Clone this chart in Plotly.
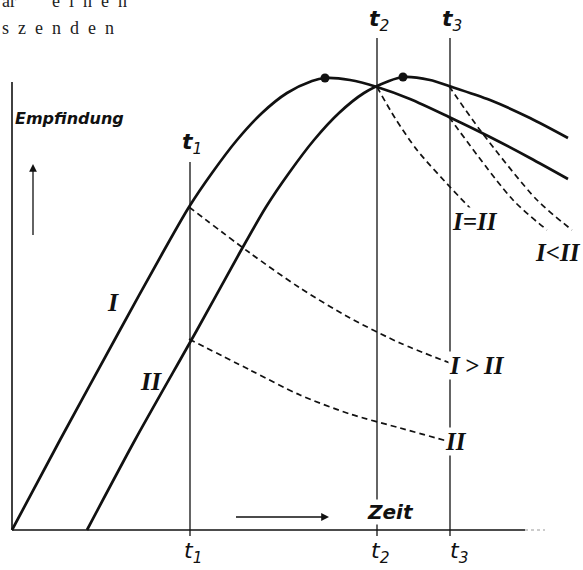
import plotly.graph_objects as go

# ---- data (time units on x, sensation "Empfindung" on y; arbitrary units) ----
curve_I_x = [0, 48, 108, 150, 177, 200, 225, 250, 275, 300, 313, 338, 365, 398, 437, 478, 518, 556]
curve_I_y = [0, 90, 200, 276, 323, 357, 390, 417, 437, 449, 452, 450, 443, 431, 413, 393, 372, 351]

curve_II_x = [75, 123, 185, 227, 254, 277, 302, 327, 352, 377, 391, 418, 437, 478, 518, 556]
curve_II_y = [0, 90, 200, 276, 323, 357, 390, 417, 437, 449, 453, 450, 444, 430, 412, 392]

peaks_x = [313, 391]
peaks_y = [452, 453]

# decay curves (dashed) after stimulus end
decay_IgtII_x = [177, 238, 288, 338, 388, 438]
decay_IgtII_y = [323, 277, 242, 212, 187, 167]
decay_II_x = [177, 238, 288, 338, 388, 435]
decay_II_y = [191, 160, 135, 116, 102, 89]
decay_IeqII_x = [365, 383, 405, 438, 458]
decay_IeqII_y = [443, 412, 380, 343, 322]
decay_IltII_a_x = [437, 468, 525, 560]
decay_IltII_a_y = [444, 400, 330, 300]
decay_IltII_b_x = [437, 501, 535]
decay_IltII_b_y = [413, 330, 300]

# time marks
t_names = ["1", "2", "3"]
t_pos = [178, 365, 438]
t_top = [368, 492, 492]
t_bottom = -6
t_label_top_y = [387, 510, 510]
t_label_bottom_x = [181, 368, 447]
t_label_bottom_y = -22

# axes extents
x_axis_end = 513
x_axis_faint_end = 533
y_axis_top = 448

SERIF = "Liberation Serif"
SANS = "DejaVu Sans"
SP = "\u2002"

fig = go.Figure()

def line(x, y, width=2.6, dash=None, color="#111", shape="spline"):
    fig.add_trace(go.Scatter(x=x, y=y, mode="lines", line_shape=shape,
                             line=dict(color=color, width=width, dash=dash, smoothing=0.8),
                             hoverinfo="skip", showlegend=False))

# axes
line([0, x_axis_end], [0, 0], width=1.6, shape="linear")
line([x_axis_end, x_axis_faint_end], [0, 0], width=1.2, dash="3px,3px", color="#999", shape="linear")
line([0, 0], [0, y_axis_top], width=1.6, shape="linear")

# vertical time lines
for xp, top in zip(t_pos, t_top):
    line([xp, xp], [t_bottom, top], width=1.3, shape="linear")

# main curves
line(curve_I_x, curve_I_y, width=2.7)
line(curve_II_x, curve_II_y, width=2.7)

# dashed decay curves
for dx, dy in [(decay_IgtII_x, decay_IgtII_y), (decay_II_x, decay_II_y),
               (decay_IeqII_x, decay_IeqII_y), (decay_IltII_a_x, decay_IltII_a_y),
               (decay_IltII_b_x, decay_IltII_b_y)]:
    line(dx, dy, width=1.7, dash="6px,4px")

# peak dots
fig.add_trace(go.Scatter(x=peaks_x, y=peaks_y, mode="markers",
                         marker=dict(color="#111", size=9), hoverinfo="skip",
                         showlegend=False))

ann = []
def text(x, y, s, size, family, xanchor="center", bg=None, color="#111"):
    d = dict(x=x, y=y, text=s, showarrow=False, xanchor=xanchor, yanchor="middle",
             font=dict(family=family, size=size, color=color))
    if bg:
        d["bgcolor"] = bg
        d["borderpad"] = 0
    ann.append(d)

# time labels top and bottom
for n, xp, ty in zip(t_names, t_pos, t_label_top_y):
    text(xp + 2, ty, "<b><i>t</i></b><sub><i>" + n + "</i></sub>", 22, SANS)
for n, xb in zip(t_names, t_label_bottom_x):
    text(xb, t_label_bottom_y, "<i>t</i><sub><i>" + n + "</i></sub>", 22, SANS)

# curve labels
text(101, 228, "<b><i>I</i></b>", 26, SERIF)
text(139, 149, "<b><i>II</i></b>", 26, SERIF)
text(463, 309, "<b><i>I=II</i></b>", 25, SERIF, bg="white")
text(465, 165, "<b><i>I\u2009&gt;\u2009II</i></b>", 25, SERIF, bg="white")
text(444, 89, "<b><i>II</i></b>", 25, SERIF, bg="white")
text(546, 278, "<b><i>I&lt;II</i></b>", 25, SERIF)

# axis titles
text(1, 412, "<b><i>Empfindung</i></b>", 16, SANS, xanchor="left")
text(378, 18, "<b><i>Zeit</i></b>", 20, SANS, bg="white")

# arrows
ann.append(dict(x=21, y=366, ax=21, ay=285, xref="x", yref="y", axref="x", ayref="y",
                showarrow=True, arrowhead=2, arrowsize=1.2, arrowwidth=1.3, arrowcolor="#111", text=" "))
ann.append(dict(x=317, y=13, ax=221, ay=13, xref="x", yref="y", axref="x", ayref="y",
                showarrow=True, arrowhead=2, arrowsize=1.2, arrowwidth=1.3, arrowcolor="#111", text=" "))

# surrounding book text (cut off at the top of the scan)
ann.append(dict(x=0, y=1, xref="paper", yref="paper", xanchor="left", yanchor="bottom",
                yshift=-13, showarrow=False,
                text="ar" + SP * 4 + SP.join("einen"),
                font=dict(family=SERIF, size=18, color="#222")))
text(-12, 502, SP.join("szenden"), 18, SERIF, xanchor="left", color="#222")

fig.update_layout(
    width=583, height=570,
    margin=dict(l=0, r=0, t=0, b=0),
    paper_bgcolor="white", plot_bgcolor="white",
    showlegend=False,
    annotations=ann,
    xaxis=dict(range=[-12, 571], visible=False, fixedrange=True),
    yaxis=dict(range=[-40, 530], visible=False, fixedrange=True),
)

fig.write_html("out.html", config={"displayModeBar": False},
               post_script="document.body.style.margin='0';")
